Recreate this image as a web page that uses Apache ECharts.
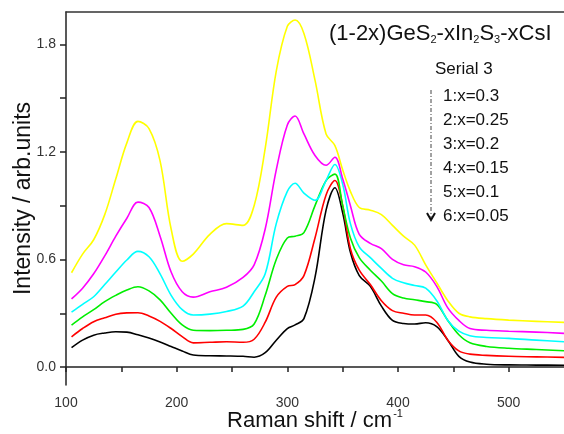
<!DOCTYPE html>
<html><head><meta charset="utf-8">
<script src="https://cdn.jsdelivr.net/npm/echarts@6/dist/echarts.min.js"></script>
<style>html,body{margin:0;padding:0;background:#fff}#c{width:564px;height:434px}</style>
</head><body><div id="c"></div>
<script>
const ramanShift = [105,115,125,135,145,155,165,175,185,195,205,215,230,245,260,270,280,290,300,307,315,325,335,343,350,357,365,375,385,395,405,415,425,435,445,455,465,480,500,525,550];
const x030 = [0.526,0.63,0.71,0.85,1.05,1.25,1.37,1.33,1.15,0.77,0.59,0.63,0.74,0.80,0.79,0.90,1.22,1.65,1.90,1.935,1.86,1.60,1.30,1.235,1.10,0.98,0.89,0.875,0.85,0.79,0.73,0.68,0.57,0.47,0.37,0.30,0.28,0.27,0.262,0.255,0.249];
const x025 = [0.38,0.44,0.52,0.62,0.73,0.83,0.92,0.89,0.73,0.53,0.42,0.39,0.42,0.445,0.50,0.57,0.77,1.10,1.35,1.40,1.30,1.18,1.125,1.17,1.05,0.90,0.74,0.69,0.66,0.60,0.57,0.56,0.53,0.45,0.33,0.26,0.215,0.205,0.20,0.195,0.188];
const x020 = [0.306,0.35,0.392,0.46,0.53,0.597,0.645,0.615,0.52,0.40,0.32,0.29,0.295,0.31,0.34,0.42,0.52,0.80,0.98,1.025,0.97,0.93,1.04,1.13,1.02,0.80,0.67,0.61,0.55,0.495,0.47,0.455,0.44,0.37,0.26,0.20,0.175,0.165,0.16,0.15,0.141];
const x015 = [0.234,0.28,0.32,0.365,0.40,0.43,0.448,0.425,0.375,0.30,0.235,0.205,0.203,0.205,0.21,0.24,0.40,0.60,0.72,0.73,0.75,0.90,1.04,1.076,0.90,0.72,0.61,0.54,0.48,0.41,0.385,0.375,0.365,0.35,0.26,0.18,0.135,0.115,0.105,0.098,0.091];
const x010 = [0.169,0.215,0.253,0.275,0.295,0.302,0.303,0.285,0.255,0.215,0.17,0.135,0.138,0.141,0.138,0.155,0.25,0.39,0.45,0.46,0.51,0.72,0.96,1.04,0.90,0.66,0.54,0.46,0.37,0.315,0.30,0.29,0.29,0.25,0.15,0.09,0.072,0.065,0.06,0.057,0.054];
const x005 = [0.108,0.15,0.178,0.19,0.197,0.195,0.18,0.162,0.14,0.115,0.09,0.067,0.063,0.062,0.06,0.055,0.08,0.15,0.215,0.235,0.27,0.50,0.875,1.0,0.86,0.64,0.51,0.45,0.34,0.26,0.243,0.24,0.247,0.225,0.15,0.06,0.028,0.016,0.012,0.011,0.01];
const seriesNames = ['1:x=0.3','2:x=0.25','3:x=0.2','4:x=0.15','5:x=0.1','6:x=0.05'];
const seriesValues = [x030,x025,x020,x015,x010,x005];
const seriesColors = ['#ffff00','#ff00ff','#00ffff','#00ee00','#ff0000','#000000'];
const xLabelValues = [100,200,300,400,500];
const xTickValues = [100,150,200,250,300,350,400,450,500];
const yLabelValues = [0,0.6,1.2,1.8];
const yTickValues = [0,0.3,0.6,0.9,1.2,1.5,1.8];

const font = 'Liberation Sans, Arial, sans-serif';
const chart = echarts.init(document.getElementById('c'));
const legendTexts = [{type:'text', left:435, top:61, style:{text:'Serial 3', font:'17px ' + font, fill:'#111'}}];
seriesNames.forEach((n,i)=>{
  legendTexts.push({type:'text', left:443, top:88 + i*24, style:{text:n, font:'17px ' + font, fill:'#111'}});
});
legendTexts.push({type:'line', shape:{x1:431,y1:90,x2:431,y2:219}, style:{stroke:'#444', lineWidth:1, lineDash:[4,2,1,2]}});
legendTexts.push({type:'polyline', shape:{points:[[427,213],[431,220],[435,213]]}, style:{stroke:'#111', lineWidth:2, fill:null}});

chart.setOption({
  animation:false,
  backgroundColor:'#fff',
  grid:{left:66, right:0, top:12, bottom:49, outerBoundsMode:'none', containLabel:false},
  title:{
    left:324, top:17,
    text:'(1-2x)GeS{s|2}-xIn{s|2}S{s|3}-xCsI',
    textStyle:{fontFamily:font, fontSize:22, fontWeight:'normal', color:'#111',
      rich:{s:{fontFamily:font, fontSize:11, color:'#111', verticalAlign:'bottom', padding:[12,0,0,0]}}}
  },
  xAxis:[{
    type:'value', min:100, max:550, position:'bottom',
    name:'Raman shift / cm{p|-1}', nameLocation:'middle', nameGap:23, nameMoveOverlap:false,
    nameTextStyle:{fontFamily:font, fontSize:22, color:'#111',
      rich:{p:{fontFamily:font, fontSize:11, color:'#111', verticalAlign:'top', padding:[0,0,14,1]}}},
    axisLine:{lineStyle:{color:'#222', width:1.5}},
    axisTick:{customValues:xTickValues, length:5, lineStyle:{color:'#222', width:1.5}},
    axisLabel:{customValues:xLabelValues, fontFamily:font, fontSize:14, color:'#333', margin:11},
    splitLine:{show:false}
  },{
    type:'value', min:100, max:550, position:'top',
    axisLine:{show:true, lineStyle:{color:'#333', width:1.5}},
    axisTick:{show:false}, axisLabel:{show:false}, splitLine:{show:false}
  }],
  yAxis:{
    type:'value', min:-0.1, max:1.98,
    name:'Intensity / arb.units', nameLocation:'middle', nameGap:31, nameMoveOverlap:false,
    nameTextStyle:{fontFamily:font, fontSize:23, color:'#111'},
    axisLine:{show:true, lineStyle:{color:'#222', width:1.5}},
    axisTick:{show:true, customValues:yTickValues, length:6, lineStyle:{color:'#222', width:1.5}},
    axisLabel:{customValues:yLabelValues, formatter:v=>v.toFixed(1), fontFamily:font, fontSize:14, color:'#333', margin:10},
    splitLine:{show:false}
  },
  graphic:legendTexts,
  series:seriesValues.map((vals,i)=>({
    type:'line', name:seriesNames[i], showSymbol:false, smooth:0.35,
    data:ramanShift.map((x,j)=>[x, vals[j]]),
    lineStyle:{color:seriesColors[i], width:1.6}, itemStyle:{color:seriesColors[i]}, z:10-i
  }))
});
</script>
</body></html>
